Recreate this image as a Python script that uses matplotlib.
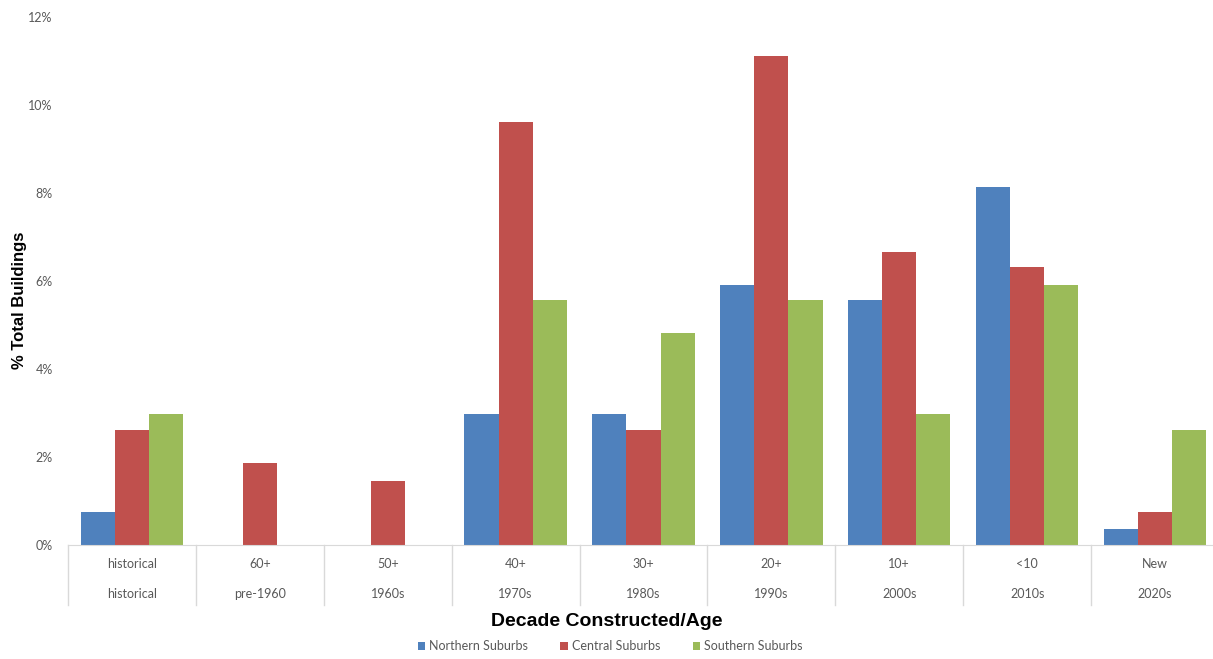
import matplotlib
matplotlib.use("Agg")
import matplotlib.pyplot as plt
import matplotlib.transforms as mtransforms
import numpy as np

top_labels = ["historical", "60+", "50+", "40+", "30+", "20+", "10+", "<10", "New"]
bottom_labels = ["historical", "pre-1960", "1960s", "1970s", "1980s", "1990s", "2000s", "2010s", "2020s"]
series_names = ["Northern Suburbs", "Central Suburbs", "Southern Suburbs"]
northern = [0.75, 0.0, 0.0, 2.98, 2.98, 5.91, 5.57, 8.14, 0.37]
central = [2.61, 1.86, 1.45, 9.61, 2.61, 11.11, 6.66, 6.32, 0.75]
southern = [2.98, 0.0, 0.0, 5.57, 4.82, 5.57, 2.98, 5.91, 2.61]
colors = ["#4F81BD", "#C0504D", "#9BBB59"]

fig = plt.figure(figsize=(12.13, 6.59), dpi=100)
ax = fig.add_axes([68/1213, 114/659, 1151/1213, (642-114)/659])

n = len(top_labels)
x = np.arange(n)
w = 1/3.75
for i, (vals, c, name) in enumerate(zip([northern, central, southern], colors, series_names)):
    ax.bar(x + (i-1)*w, vals, width=w, color=c, label=name, edgecolor="none")

ax.set_xlim(-0.5, n-0.5)
ax.set_ylim(0, 12)
ax.set_yticks(np.arange(0, 13, 2))
ax.set_yticklabels([f"{v}%" for v in range(0, 13, 2)], fontsize=9, color="#595959", family="Lato")
ax.tick_params(axis="y", length=0, pad=11)
ax.set_xticks([])
for s in ["top", "right", "left"]:
    ax.spines[s].set_visible(False)
ax.spines["bottom"].set_color("#D9D9D9")
ax.spines["bottom"].set_clip_on(False)

trans = mtransforms.blended_transform_factory(ax.transData, ax.transAxes)
for i in range(n):
    ax.text(i, -19/528, top_labels[i], transform=trans, ha="center", va="center",
            fontsize=9, color="#595959", family="Lato")
    ax.text(i, -49/528, bottom_labels[i], transform=trans, ha="center", va="center",
            fontsize=9, color="#595959", family="Lato")
for b in np.arange(-0.5, n-0.5, 1.0):
    ax.plot([b, b], [0, -60/528], transform=trans, color="#D9D9D9", lw=1, clip_on=False)

fig.text(0.5, (659-621)/659, "Decade Constructed/Age", ha="center", va="center",
         fontsize=14, fontweight="bold", family="Liberation Sans")
fig.text(20/1213, (659-300)/659, "% Total Buildings", ha="center", va="center", rotation=90,
         fontsize=12, fontweight="bold", family="Liberation Sans")

leg = fig.legend(loc="center", bbox_to_anchor=(610/1213, (659-646)/659), ncol=3, frameon=False,
                 prop={"family": "Lato", "size": 9}, handlelength=0.6, handleheight=0.6,
                 columnspacing=2.6, handletextpad=0.3)
for t in leg.get_texts():
    t.set_color("#595959")

fig.savefig("out.png", dpi=100)
